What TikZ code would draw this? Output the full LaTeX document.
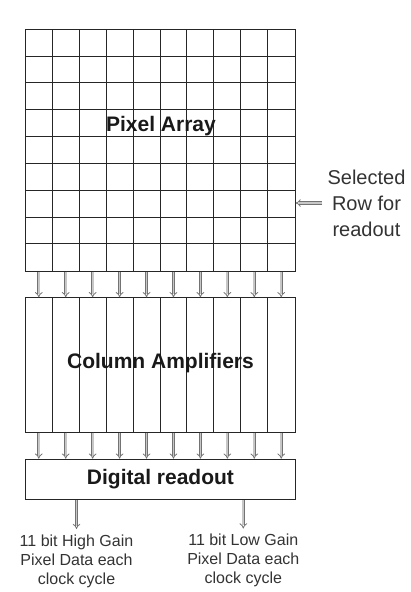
\documentclass[tikz,border=0pt]{standalone}
\usepackage{fontspec}
\setmainfont{Liberation Sans}
\usetikzlibrary{arrows.meta}
\begin{document}
\begin{tikzpicture}[x=1pt,y=-1pt,
  box/.style={draw=black!85, line width=0.9pt, inner sep=0pt, anchor=north west, minimum width=269.4pt},
  gline/.style={draw=black!85, line width=0.9pt},
  garrow/.style={draw=black!55, double=black!22, double distance=1.8pt, line width=0.8pt, -{Implies}},
  lbl/.style={font=\bfseries\fontsize{21}{25}\selectfont, text=black!90},
  note/.style={align=center, inner sep=0pt, font=\fontsize{16}{19}\selectfont, text=black!80}]
\useasboundingbox (0,0) rectangle (410,592);
% pixel array
\node[box, minimum height=241.4pt] (pa) at (25.3,29.3) {};
\foreach \i in {1,...,9} \draw[gline] (pa.north west) ++(\i*26.94,0) -- ++(0,241.4);
\foreach \j in {1,...,8} \draw[gline] (pa.north west) ++(0,\j*26.82) -- ++(269.4,0);
\node[lbl] (pal) at (161,126) {Pixel Array};
% column amplifiers
\node[box, minimum height=134.4pt] (ca) at (25.3,297.3) {};
\foreach \i in {1,...,9} \draw[gline] (ca.north west) ++(\i*26.94,0) -- ++(0,134.4);
\node[lbl] (cal) at (160.5,363.5) {Column Amplifiers};
% digital readout
\node[box, minimum height=40.6pt] (dr) at (25.3,458.7) {};
\node[lbl] (drl) at (dr.center) {Digital readout};
% column arrows
\foreach \i in {0,...,9} {
  \path (pa.south west) ++(\i*26.94+13.47,0) coordinate (a\i);
  \path (ca.north west) ++(\i*26.94+13.47,0) coordinate (b\i);
  \path (ca.south west) ++(\i*26.94+13.47,0) coordinate (c\i);
  \path (dr.north west) ++(\i*26.94+13.47,0) coordinate (d\i);
  \draw[garrow] (a\i) -- (b\i);
  \draw[garrow] (c\i) -- (d\i);
}
% selected row
\node[align=center, inner sep=0pt, font=\fontsize{20}{26}\selectfont, text=black!80] (sel) at (366.5,203) {Selected\\Row for\\readout};
\draw[garrow, shorten <=5pt] (sel.west) -- (sel.west -| pa.east);
% outputs
\node[note, anchor=north] (hg) at (76.5,535) {11 bit High Gain\\Pixel Data each\\clock cycle};
\node[note, anchor=north] (lg) at (243.3,533.5) {11 bit Low Gain\\Pixel Data each\\clock cycle};
\draw[garrow] (dr.south -| hg.north) -- ([yshift=6pt]hg.north);
\draw[garrow] (dr.south -| lg.north) -- ([yshift=5pt]lg.north);
\end{tikzpicture}
\end{document}
